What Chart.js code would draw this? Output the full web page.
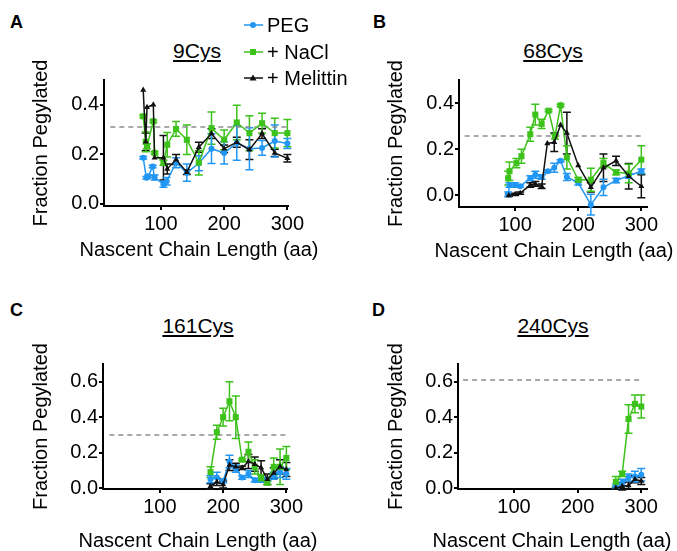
<!DOCTYPE html>
<html lang="en">

<head>
    <meta charset="UTF-8">
    <title>Fraction Pegylated</title>
    <script src="https://cdn.jsdelivr.net/npm/chart.js"></script>
    <style>
        body { margin: 0; background: #fff; width: 677px; height: 551px; overflow: hidden; position: relative;
            font-family: "Liberation Sans", Arial, sans-serif; color: #000; }
        canvas { position: absolute; }
        .letter { position: absolute; font-weight: bold; font-size: 18px; line-height: 1; }
        .title { position: absolute; font-size: 21px; line-height: 1; text-decoration: underline;
            transform: translateX(-50%); white-space: nowrap; }
        .xtitle { position: absolute; font-size: 20px; line-height: 1; transform: translateX(-50%); white-space: nowrap; }
        .leg { position: absolute; left: 244px; font-size: 20px; line-height: 1; display: flex; align-items: center; white-space: nowrap; }
        .leg svg { margin-right: 4px; }
    </style>
</head>

<body>
    <div class="letter" style="left:10px; top:13px;">A</div>
    <div class="letter" style="left:373px; top:13px;">B</div>
    <div class="letter" style="left:10px; top:301px;">C</div>
    <div class="letter" style="left:372px; top:301px;">D</div>

    <div class="title" style="left:197px; top:40px;">9Cys</div>
    <div class="title" style="left:553px; top:40px;">68Cys</div>
    <div class="title" style="left:198px; top:315px;">161Cys</div>
    <div class="title" style="left:553px; top:315px;">240Cys</div>

    <canvas id="chartA" width="340" height="270" style="left:0; top:0;"></canvas>
    <canvas id="chartB" width="337" height="270" style="left:340px; top:0;"></canvas>
    <canvas id="chartC" width="340" height="281" style="left:0; top:270px;"></canvas>
    <canvas id="chartD" width="337" height="281" style="left:340px; top:270px;"></canvas>

    <div class="xtitle" style="left:199px; top:239px;">Nascent Chain Length (aa)</div>
    <div class="xtitle" style="left:554px; top:240px;">Nascent Chain Length (aa)</div>
    <div class="xtitle" style="left:198px; top:530px;">Nascent Chain Length (aa)</div>
    <div class="xtitle" style="left:552px; top:530px;">Nascent Chain Length (aa)</div>

    <div class="leg" style="top:15px;">
        <svg width="19" height="12"><line x1="0" y1="6" x2="19" y2="6" stroke="#2196f3" stroke-width="1.5"/><circle cx="9" cy="6" r="3" fill="#2196f3"/></svg>PEG
    </div>
    <div class="leg" style="top:42px;">
        <svg width="19" height="12"><line x1="0" y1="6" x2="19" y2="6" stroke="#3dc21b" stroke-width="1.5"/><rect x="6" y="3" width="6" height="6" fill="#3dc21b"/></svg>+ NaCl
    </div>
    <div class="leg" style="top:68px;">
        <svg width="19" height="12"><line x1="0" y1="6" x2="19" y2="6" stroke="#111" stroke-width="1.5"/><polygon points="9,2.5 12.5,8.5 5.5,8.5" fill="#111"/></svg>+ Melittin
    </div>

    <script>
        // tick labels
        const xTicks = [100, 200, 300];
        const yTicksAB = [0.0, 0.2, 0.4];
        const yTicksCD = [0.0, 0.2, 0.4, 0.6];

        // dashed reference levels (A, B, C, D) and their x span
        const refLevels = [0.31, 0.258, 0.30, 0.61];
        const refX = [20, 300];

        // A: 9Cys
        const aPegX = [72, 77, 80, 87, 90, 104, 109, 124, 141, 160, 180, 200, 220, 240, 260, 280, 300];
        const aPegY = [0.185, 0.104, 0.11, 0.15, 0.105, 0.078, 0.09, 0.165, 0.125, 0.163, 0.222, 0.205, 0.245, 0.222, 0.225, 0.253, 0.243];
        const aPegE = [0.005, 0.005, 0.005, 0.005, 0.01, 0.012, 0.015, 0.02, 0.035, 0.03, 0.06, 0.045, 0.07, 0.085, 0.03, 0.065, 0.02];
        const aNaclX = [72, 76, 78, 88, 90, 104, 110, 124, 141, 160, 180, 200, 220, 240, 260, 280, 300];
        const aNaclY = [0.353, 0.25, 0.232, 0.333, 0.205, 0.165, 0.238, 0.302, 0.258, 0.165, 0.305, 0.258, 0.328, 0.285, 0.325, 0.285, 0.285];
        const aNaclE = [0.005, 0.04, 0.01, 0.005, 0.005, 0.01, 0.05, 0.03, 0.06, 0.05, 0.065, 0.04, 0.07, 0.07, 0.04, 0.06, 0.055];
        const aMelX = [72, 76, 78, 88, 90, 104, 110, 124, 141, 160, 180, 200, 220, 240, 260, 280, 300];
        const aMelY = [0.46, 0.25, 0.39, 0.40, 0.185, 0.185, 0.14, 0.178, 0.127, 0.228, 0.283, 0.222, 0.248, 0.218, 0.283, 0.205, 0.183];
        const aMelE = [0, 0.035, 0, 0, 0, 0.09, 0.02, 0.02, 0.01, 0.02, 0.02, 0.015, 0.02, 0.04, 0.02, 0.015, 0.015];

        // B: 68Cys
        const bPegX = [89, 91, 100, 108, 124, 132, 142, 152, 162, 172, 182, 200, 220, 240, 260, 280, 300];
        const bPegY = [0.005, 0.045, 0.045, 0.04, 0.075, 0.09, 0.08, 0.105, 0.12, 0.15, 0.08, 0.055, -0.04, 0.035, 0.065, 0.085, 0.105];
        const bPegE = [0.01, 0.01, 0.01, 0.005, 0.01, 0.015, 0.01, 0.005, 0.02, 0.005, 0.015, 0.01, 0.045, 0.035, 0.01, 0.01, 0.01];
        const bNaclX = [89, 91, 102, 110, 124, 132, 142, 153, 163, 172, 182, 200, 220, 240, 260, 280, 300];
        const bNaclY = [0.075, 0.105, 0.14, 0.17, 0.265, 0.35, 0.31, 0.367, 0.255, 0.39, 0.165, 0.068, 0.068, 0.14, 0.1, 0.095, 0.155];
        const bNaclE = [0.03, 0.04, 0.02, 0.03, 0.03, 0.045, 0.02, 0.005, 0.01, 0.005, 0.05, 0.01, 0.05, 0.02, 0.01, 0.04, 0.06];
        const bMelX = [90, 100, 108, 124, 132, 142, 151, 162, 172, 182, 200, 220, 240, 260, 280, 300];
        const bMelY = [0.0, 0.005, 0.01, 0.045, 0.05, 0.04, 0.225, 0.23, 0.305, 0.27, 0.13, 0.035, 0.12, 0.15, 0.083, 0.04];
        const bMelE = [0.005, 0.005, 0.005, 0.01, 0.01, 0.01, 0, 0.04, 0, 0.09, 0, 0.02, 0.06, 0.02, 0.055, 0.05];

        // C: 161Cys
        const cX = [180, 190, 200, 210, 220, 230, 240, 250, 260, 270, 280, 290, 300];
        const cPegY = [0.05, 0.06, 0.04, 0.15, 0.11, 0.06, 0.08, 0.045, 0.045, 0.05, 0.07, 0.09, 0.08];
        const cPegE = [0.02, 0.03, 0.01, 0.035, 0.02, 0.01, 0.02, 0.01, 0.01, 0.01, 0.02, 0.03, 0.03];
        const cNaclY = [0.09, 0.315, 0.40, 0.49, 0.40, 0.16, 0.205, 0.12, 0.055, 0.03, 0.12, 0.12, 0.17];
        const cNaclE = [0.03, 0.04, 0.05, 0.11, 0.12, 0.005, 0.055, 0.04, 0.02, 0.01, 0.05, 0.1, 0.065];
        const cMelY = [0.01, 0.035, 0.02, 0.13, 0.12, 0.115, 0.15, 0.135, 0.115, 0.05, 0.085, 0.12, 0.105];
        const cMelE = [0.015, 0.02, 0.02, 0.03, 0.02, 0.01, 0.04, 0.04, 0.04, 0.03, 0.03, 0.04, 0.04];

        // D: 240Cys
        const dX = [260, 270, 280, 290, 300];
        const dPegY = [0.01, 0.03, 0.06, 0.065, 0.075];
        const dPegE = [0.01, 0.02, 0.02, 0.03, 0.035];
        const dNaclY = [0.035, 0.08, 0.39, 0.475, 0.46];
        const dNaclE = [0.03, 0.015, 0.08, 0.05, 0.065];
        const dMelY = [0.0, 0.01, 0.015, 0.05, 0.04];
        const dMelE = [0.005, 0.02, 0.02, 0.02, 0.02];

        const PEG = '#2196f3', NACL = '#3dc21b', MEL = '#111111', REF = '#8c8c8c';

        Chart.defaults.font.family = '"Liberation Sans", Arial, sans-serif';
        Chart.defaults.font.size = 20;
        Chart.defaults.color = '#000';

        // vertical error bars with caps, drawn under the lines
        const errorBars = {
            id: 'errorBars',
            beforeDatasetsDraw(chart) {
                const ctx = chart.ctx;
                const x = chart.scales.x, y = chart.scales.y;
                chart.data.datasets.forEach(ds => {
                    if (!ds.errors) return;
                    ctx.save();
                    ctx.strokeStyle = ds.borderColor;
                    ctx.lineWidth = 1.5;
                    ds.data.forEach((p, j) => {
                        const e = ds.errors[j];
                        if (!e) return;
                        const px = x.getPixelForValue(p.x);
                        const top = y.getPixelForValue(p.y + e);
                        const bot = y.getPixelForValue(p.y - e);
                        ctx.beginPath();
                        ctx.moveTo(px, top); ctx.lineTo(px, bot);
                        ctx.moveTo(px - 4, top); ctx.lineTo(px + 4, top);
                        ctx.moveTo(px - 4, bot); ctx.lineTo(px + 4, bot);
                        ctx.stroke();
                    });
                    ctx.restore();
                });
            }
        };

        function pts(xs, ys) {
            return xs.map((x, i) => ({ x: x, y: ys[i] }));
        }

        function series(xs, ys, es, color, style, r) {
            return {
                data: pts(xs, ys), errors: es,
                borderColor: color, backgroundColor: color, borderWidth: 1.5,
                pointStyle: style, pointRadius: r, pointHoverRadius: r, pointBorderWidth: 0,
                showLine: true, clip: false
            };
        }

        function refLine(level) {
            return {
                data: pts(refX, [level, level]),
                borderColor: REF, borderWidth: 1.5, borderDash: [5, 4],
                pointRadius: 0, showLine: true
            };
        }

        function makePanel(id, p) {
            new Chart(document.getElementById(id), {
                type: 'scatter',
                data: { datasets: p.datasets },
                options: {
                    responsive: false,
                    animation: false,
                    layout: { padding: { top: p.top, right: p.right, left: 0, bottom: 0 } },
                    plugins: { legend: { display: false }, tooltip: { enabled: false } },
                    scales: {
                        x: {
                            type: 'linear', min: p.xMin, max: p.xMax,
                            afterBuildTicks: s => { s.ticks = xTicks.map(v => ({ value: v })); },
                            afterFit: s => { s.height = p.xH; },
                            grid: { drawOnChartArea: false, color: '#000', lineWidth: 2, tickLength: 4 },
                            border: { color: '#000', width: 2 },
                            ticks: { autoSkip: false, maxRotation: 0, padding: 2, color: '#000' }
                        },
                        y: {
                            type: 'linear', min: p.yMin, max: p.yMax,
                            afterBuildTicks: s => { s.ticks = p.yTicks.map(v => ({ value: v })); },
                            afterFit: s => { s.width = p.yW; },
                            grid: { drawOnChartArea: false, color: '#000', lineWidth: 2, tickLength: 4 },
                            border: { color: '#000', width: 2 },
                            ticks: { autoSkip: false, padding: 1, color: '#000', callback: v => v.toFixed(1) },
                            title: {
                                display: true, text: 'Fraction Pegylated', color: '#000',
                                padding: { top: p.yTitlePad, bottom: 0 }
                            }
                        }
                    }
                },
                plugins: [errorBars]
            });
        }

        makePanel('chartA', {
            datasets: [
                series(aMelX, aMelY, aMelE, MEL, 'triangle', 3.5),
                series(aNaclX, aNaclY, aNaclE, NACL, 'rect', 4.3),
                series(aPegX, aPegY, aPegE, PEG, 'circle', 3),
                refLine(refLevels[0])
            ],
            xMin: 10, xMax: 301, yMin: -0.01, yMax: 0.5, yTicks: yTicksAB,
            top: 80, right: 52, yW: 104, xH: 64, yTitlePad: 29
        });

        makePanel('chartB', {
            datasets: [
                series(bMelX, bMelY, bMelE, MEL, 'triangle', 3.5),
                series(bNaclX, bNaclY, bNaclE, NACL, 'rect', 4.3),
                series(bPegX, bPegY, bPegE, PEG, 'circle', 3),
                refLine(refLevels[1])
            ],
            xMin: 11, xMax: 309, yMin: -0.05, yMax: 0.5, yTicks: yTicksAB,
            top: 80, right: 30, yW: 119, xH: 63, yTitlePad: 44
        });

        makePanel('chartC', {
            datasets: [
                series(cX, cMelY, cMelE, MEL, 'triangle', 3.5),
                series(cX, cNaclY, cNaclE, NACL, 'rect', 4.3),
                series(cX, cPegY, cPegE, PEG, 'circle', 3),
                refLine(refLevels[2])
            ],
            xMin: 10, xMax: 301, yMin: -0.005, yMax: 0.7, yTicks: yTicksCD,
            top: 94, right: 53, yW: 103, xH: 62, yTitlePad: 29
        });

        makePanel('chartD', {
            datasets: [
                series(dX, dMelY, dMelE, MEL, 'triangle', 3.5),
                series(dX, dNaclY, dNaclE, NACL, 'rect', 4.3),
                series(dX, dPegY, dPegE, PEG, 'circle', 3),
                refLine(refLevels[3])
            ],
            xMin: 12, xMax: 309, yMin: -0.005, yMax: 0.7, yTicks: yTicksCD,
            top: 94, right: 30, yW: 118, xH: 62, yTitlePad: 44
        });
    </script>
</body>

</html>
